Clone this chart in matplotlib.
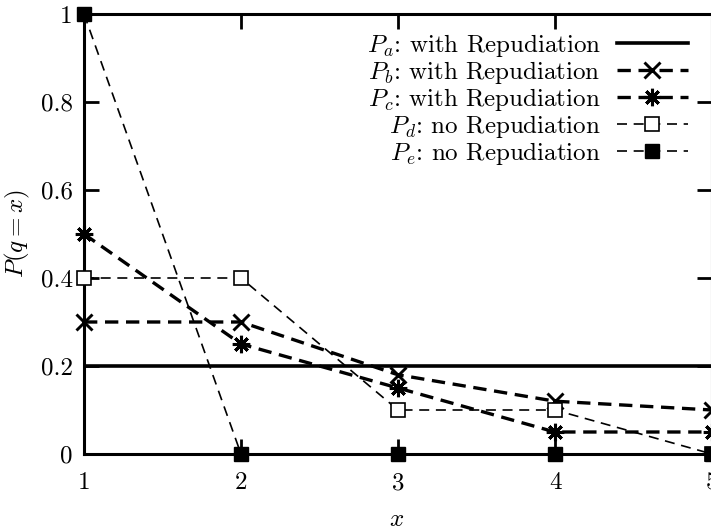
import matplotlib
matplotlib.use("Agg")
import matplotlib.pyplot as plt

plt.rcParams["font.family"] = ["cmr10", "DejaVu Serif"]
plt.rcParams["mathtext.fontset"] = "cm"
plt.rcParams["axes.unicode_minus"] = False
plt.rcParams["axes.formatter.use_mathtext"] = True

# Probability distributions over queue position x
x = [1, 2, 3, 4, 5]
p_a = [0.2, 0.2, 0.2, 0.2, 0.2]
p_b = [0.3, 0.3, 0.18, 0.12, 0.10]
p_c = [0.5, 0.25, 0.15, 0.05, 0.05]
p_d = [0.4, 0.4, 0.1, 0.1, 0.0]
p_e = [1.0, 0.0, 0.0, 0.0, 0.0]

labels = [
    r"$P_a$: with Repudiation",
    r"$P_b$: with Repudiation",
    r"$P_c$: with Repudiation",
    r"$P_d$: no Repudiation",
    r"$P_e$: no Repudiation",
]
xticks = [1, 2, 3, 4, 5]
yticks = [0, 0.2, 0.4, 0.6, 0.8, 1]
yticklabels = ["0", "0.2", "0.4", "0.6", "0.8", "1"]

FS = 18
W, H = 711, 532
fig = plt.figure(figsize=(W / 100, H / 100), dpi=100)
ax = fig.add_axes([84 / W, 78 / H, 628 / W, 440 / H])

thick_dash = (0, (4.0, 2.3))
thin_dash = (0, (6.0, 4.0))
asterisk = (8, 2, 0)

ax.plot(x, p_a, color="black", lw=2.6, linestyle="-", label=labels[0], zorder=3)
ax.plot(x, p_b, color="black", lw=2.4, linestyle=thick_dash, marker="x",
        markersize=11.5, markeredgewidth=2.1, label=labels[1], zorder=4, clip_on=False)
ax.plot(x, p_c, color="black", lw=2.4, linestyle=thick_dash, marker=asterisk,
        markersize=12.5, markeredgewidth=2.2, label=labels[2], zorder=4, clip_on=False)
ax.plot(x, p_d, color="black", lw=1.2, linestyle=thin_dash, marker="s",
        markersize=10, markerfacecolor="white", markeredgecolor="black",
        markeredgewidth=1.2, label=labels[3], zorder=5, clip_on=False)
ax.plot(x, p_e, color="black", lw=1.2, linestyle=thin_dash, marker="s",
        markersize=10, markerfacecolor="black", markeredgecolor="black",
        label=labels[4], zorder=6, clip_on=False)

ax.set_xlim(1, 5)
ax.set_ylim(0, 1)
ax.set_xticks(xticks)
ax.set_xticklabels([str(v) for v in xticks])
ax.set_yticks(yticks)
ax.set_yticklabels(yticklabels)

for side in ["left", "bottom", "top", "right"]:
    ax.spines[side].set_linewidth(2.2)
ax.tick_params(direction="in", length=11, width=2.0, labelsize=FS,
               top=True, right=True)
ax.tick_params(axis="x", pad=13)
ax.tick_params(axis="y", pad=8)

fig.text(17 / W, 1 - 234 / H, r"$P(q=x)$", rotation=90, fontsize=FS,
         ha="center", va="center")
fig.text(397 / W, 1 - 520 / H, r"$x$", fontsize=FS, ha="center", va="center")

leg = ax.legend(loc="upper right", bbox_to_anchor=(688 / W, 1 - 32 / H),
                bbox_transform=fig.transFigure, frameon=False, markerfirst=False,
                fontsize=FS, handlelength=2.85, handletextpad=0.64,
                labelspacing=0.0, borderpad=0, borderaxespad=0)

fig.savefig("out.png", dpi=100)
